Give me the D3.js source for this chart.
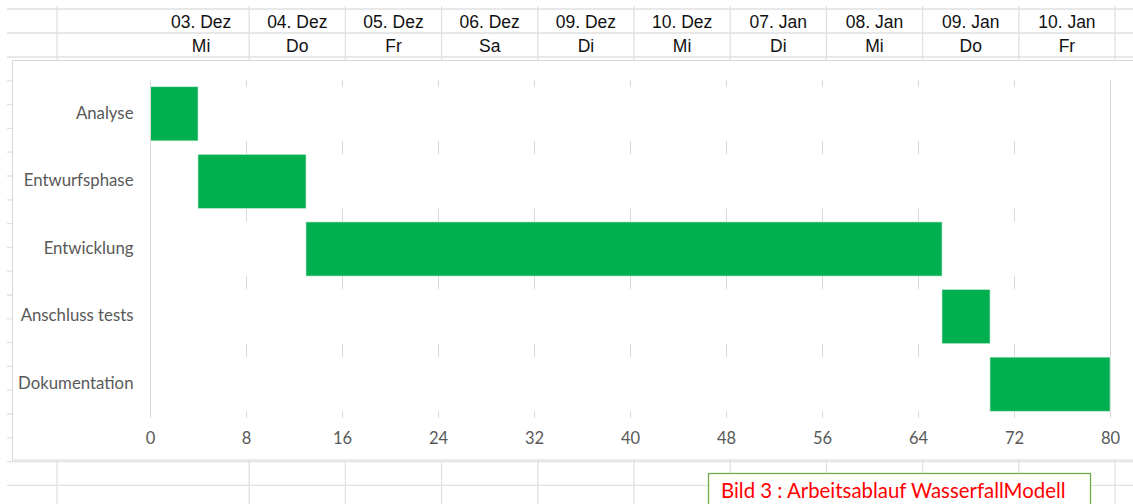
<!DOCTYPE html>
<html>
<head>
<meta charset="utf-8">
<script src="https://cdn.jsdelivr.net/npm/d3@7"></script>
<style>
  html, body { margin: 0; padding: 0; background: #fff; }
  svg { display: block; }
</style>
</head>
<body>
<svg id="sheet" width="1133" height="504"></svg>
<script>
// header row of the sheet
const dates = ['03. Dez', '04. Dez', '05. Dez', '06. Dez', '09. Dez', '10. Dez', '07. Jan', '08. Jan', '09. Jan', '10. Jan'];
const weekdays = ['Mi', 'Do', 'Fr', 'Sa', 'Di', 'Mi', 'Di', 'Mi', 'Do', 'Fr'];

// gantt data (start + duration)
const tasks = ['Analyse', 'Entwurfsphase', 'Entwicklung', 'Anschluss tests', 'Dokumentation'];
const starts = [0, 4, 13, 66, 70];
const durations = [4, 9, 53, 4, 10];
const xTicks = [0, 8, 16, 24, 32, 40, 48, 56, 64, 72, 80];

const caption = 'Bild 3 : Arbeitsablauf WasserfallModell';

const W = 1133, H = 504;
const svg = d3.select('#sheet');
const cellLine = '#e1e1e1';
const textGray = '#595959';
const labelFont = 'Lato, "Open Sans", sans-serif';

svg.append('rect').attr('width', W).attr('height', H).attr('fill', '#fff');

// --- spreadsheet grid behind the chart ---
const cols = d3.scaleBand()
  .domain(d3.range(dates.length))
  .range([153, 1115]);

const colEdges = [57].concat(d3.range(dates.length).map(i => cols(i) + cols.bandwidth()));
const grid = svg.append('g');
grid.selectAll('line.v')
  .data(colEdges)
  .join('line')
  .attr('x1', d => d).attr('x2', d => d)
  .attr('y1', 6).attr('y2', H)
  .attr('stroke', cellLine).attr('stroke-width', 1.3);

const rowEdges = [9, 33].concat(d3.range(20).map(k => 57 + 23.8 * k));
grid.selectAll('line.h')
  .data(rowEdges)
  .join('line')
  .attr('x1', 7).attr('x2', W)
  .attr('y1', d => d).attr('y2', d => d)
  .attr('stroke', cellLine).attr('stroke-width', 1.3);

const head = svg.append('g')
  .style('font-family', '"Liberation Sans", Arial, sans-serif')
  .style('font-size', '17.5px')
  .attr('fill', '#111')
  .attr('text-anchor', 'middle');

head.selectAll('text.d')
  .data(dates)
  .join('text')
  .attr('x', (d, i) => cols(i) + cols.bandwidth() / 2)
  .attr('y', 28)
  .text(d => d);

head.selectAll('text.w')
  .data(weekdays)
  .join('text')
  .attr('x', (d, i) => cols(i) + cols.bandwidth() / 2)
  .attr('y', 52)
  .text(d => d);

// --- chart object ---
svg.append('rect')
  .attr('x', 12.5).attr('y', 60.5)
  .attr('width', 1140).attr('height', 399.5)
  .attr('fill', '#fff')
  .attr('stroke', '#d9d9d9');

const x = d3.scaleLinear().domain([0, 80]).range([150, 1110]);
const y = d3.scaleBand()
  .domain(tasks)
  .range([80, 418])
  .paddingInner(0.2)
  .paddingOuter(0.1);

// vertical gridlines
svg.append('g')
  .selectAll('line')
  .data(xTicks)
  .join('line')
  .attr('x1', d => x(d) + 0.5).attr('x2', d => x(d) + 0.5)
  .attr('y1', 80).attr('y2', 418)
  .attr('stroke', '#d9d9d9');

// the invisible "rest" series in white, hides gridlines behind each row
svg.append('g')
  .selectAll('rect')
  .data(tasks)
  .join('rect')
  .attr('x', x(0) + 1.5)
  .attr('y', d => y(d))
  .attr('width', x(80) - x(0) - 1.5)
  .attr('height', y.bandwidth())
  .attr('fill', '#fff');

// duration bars
svg.append('g')
  .selectAll('rect')
  .data(tasks)
  .join('rect')
  .attr('x', (d, i) => x(starts[i]))
  .attr('y', d => y(d))
  .attr('width', (d, i) => x(starts[i] + durations[i]) - x(starts[i]))
  .attr('height', y.bandwidth())
  .attr('fill', '#00b050')
  .attr('stroke', '#c9ecd5')
  .attr('stroke-width', 0.6);

// category axis
const yAxis = svg.append('g')
  .attr('transform', `translate(${x(0) + 0.5},0)`)
  .call(d3.axisLeft(y).tickSize(0).tickPadding(17));
yAxis.select('.domain').attr('stroke', '#d9d9d9').attr('d', 'M0,80V418');
yAxis.selectAll('text')
  .style('font-family', labelFont)
  .style('font-size', '16.8px')
  .attr('dy', '0.28em')
  .attr('fill', textGray);

// value axis labels
const xAxis = svg.append('g')
  .attr('transform', 'translate(0,418)')
  .call(d3.axisBottom(x).tickValues(xTicks).tickSize(0).tickPadding(14));
xAxis.select('.domain').remove();
xAxis.selectAll('text')
  .style('font-family', labelFont)
  .style('font-size', '16.5px')
  .attr('fill', textGray);

// caption text box
svg.append('rect')
  .attr('x', 708.5).attr('y', 473.5)
  .attr('width', 382).attr('height', 40)
  .attr('fill', '#fff')
  .attr('stroke', '#70ad47')
  .attr('stroke-width', 1.3);

svg.append('text')
  .attr('x', 721).attr('y', 498)
  .style('font-family', labelFont)
  .style('font-size', '20.4px')
  .attr('fill', '#ff0000')
  .text(caption);
</script>
</body>
</html>
